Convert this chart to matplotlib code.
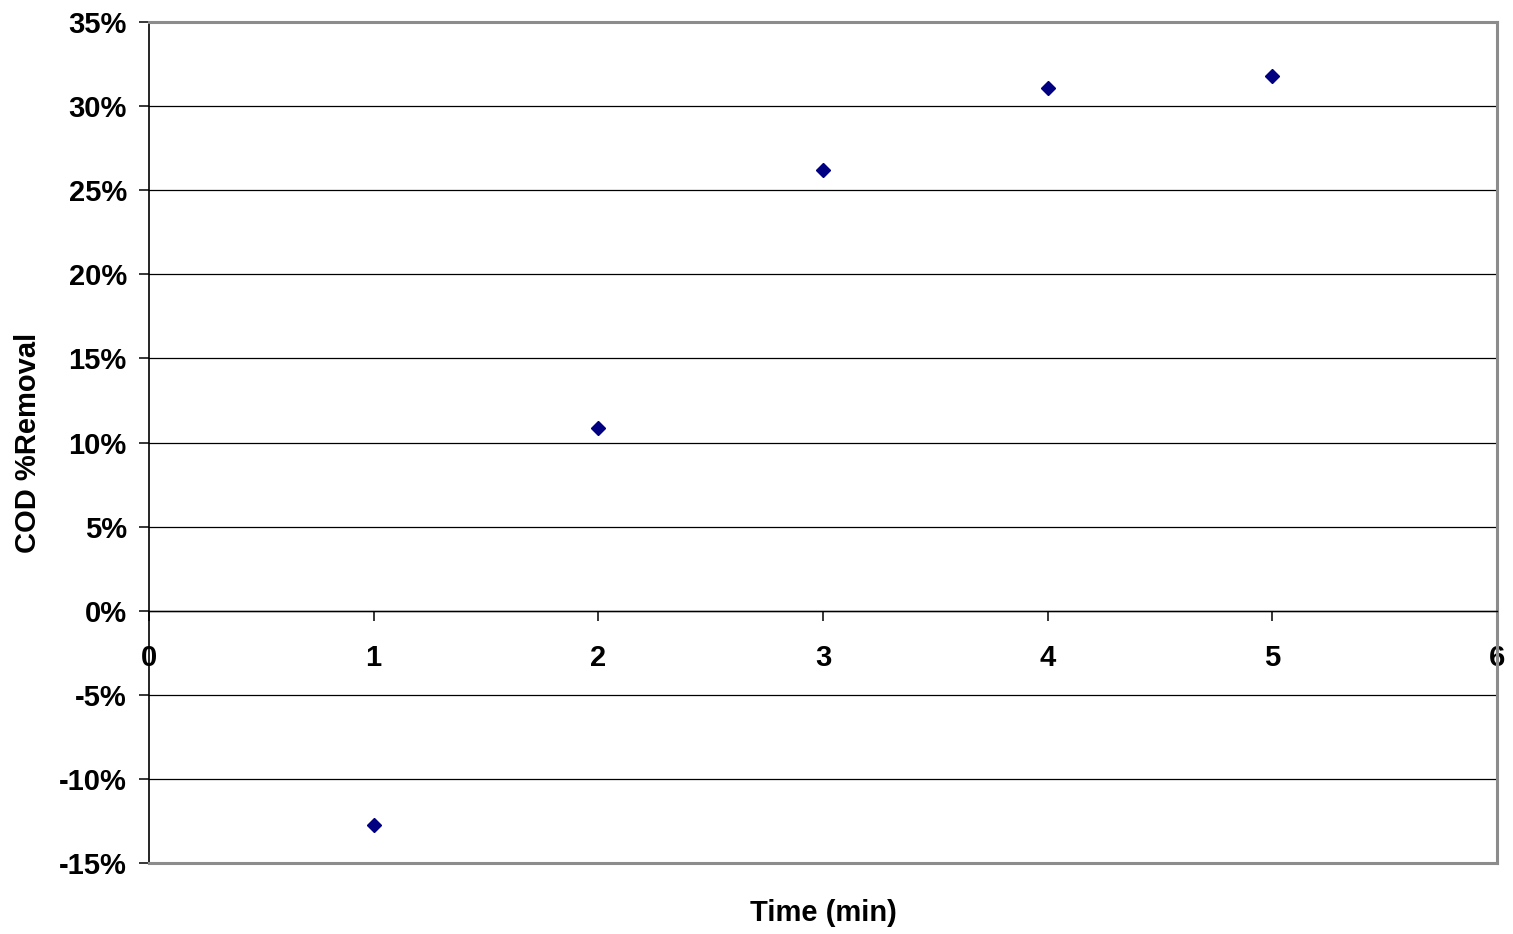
import matplotlib
matplotlib.use("Agg")
import matplotlib.pyplot as plt
from matplotlib.ticker import FuncFormatter

# COD removal measured at each sampling time
time_min = [1, 2, 3, 4, 5]
cod_removal_pct = [-12.75, 10.85, 26.2, 31.1, 31.8]

x_ticks = [0, 1, 2, 3, 4, 5, 6]
y_ticks = [-15, -10, -5, 0, 5, 10, 15, 20, 25, 30, 35]

plt.rcParams['font.family'] = ['Liberation Sans', 'DejaVu Sans']
plt.rcParams['font.weight'] = 'bold'

W, H = 1513, 934
fig = plt.figure(figsize=(W / 100, H / 100), dpi=100)
ax = fig.add_axes([149 / W, 1 - 863 / H, (1497 - 149) / W, (863 - 22) / H])

ax.set_xlim(0, 6)
ax.set_ylim(-15, 35)
ax.set_xticks(x_ticks)
ax.set_yticks(y_ticks)
ax.yaxis.set_major_formatter(FuncFormatter(lambda v, p: f"{v:.0f}%"))

# horizontal gridlines
ax.grid(axis='y', color='#000000', linewidth=0.9)
ax.set_axisbelow(True)

# category axis crosses at 0%
ax.spines['bottom'].set_position(('data', 0))
ax.spines['bottom'].set_color('black')
ax.spines['bottom'].set_linewidth(1.0)
ax.spines['left'].set_color('black')
ax.spines['left'].set_linewidth(1.2)
for s in ('top', 'right'):
    ax.spines[s].set_color('#8c8c8c')
    ax.spines[s].set_linewidth(2.2)
# plot-area border along the bottom
ax.plot([0, 1], [0, 0], transform=ax.transAxes, color='#8c8c8c',
        linewidth=2.2, clip_on=False, zorder=3)

ax.tick_params(axis='x', direction='out', length=7, width=1.1, color='black',
               pad=17, labelsize=21)
ax.tick_params(axis='y', direction='out', length=7, width=1.1, color='black',
               pad=9, labelsize=21)
for lbl in ax.get_xticklabels() + ax.get_yticklabels():
    lbl.set_fontweight('bold')

ax.plot(time_min, cod_removal_pct, linestyle='none', marker='D',
        markersize=7.5, markerfacecolor='#000080', markeredgecolor='#000080',
        markeredgewidth=1, zorder=5, clip_on=False)

fig.text(823 / W, 1 - 913 / H, 'Time (min)', ha='center', va='center',
         fontsize=21, fontweight='bold')
fig.text(28 / W, 1 - 443 / H, 'COD %Removal', ha='center', va='center',
         rotation=90, fontsize=21, fontweight='bold')

fig.savefig('out.png', dpi=100)
